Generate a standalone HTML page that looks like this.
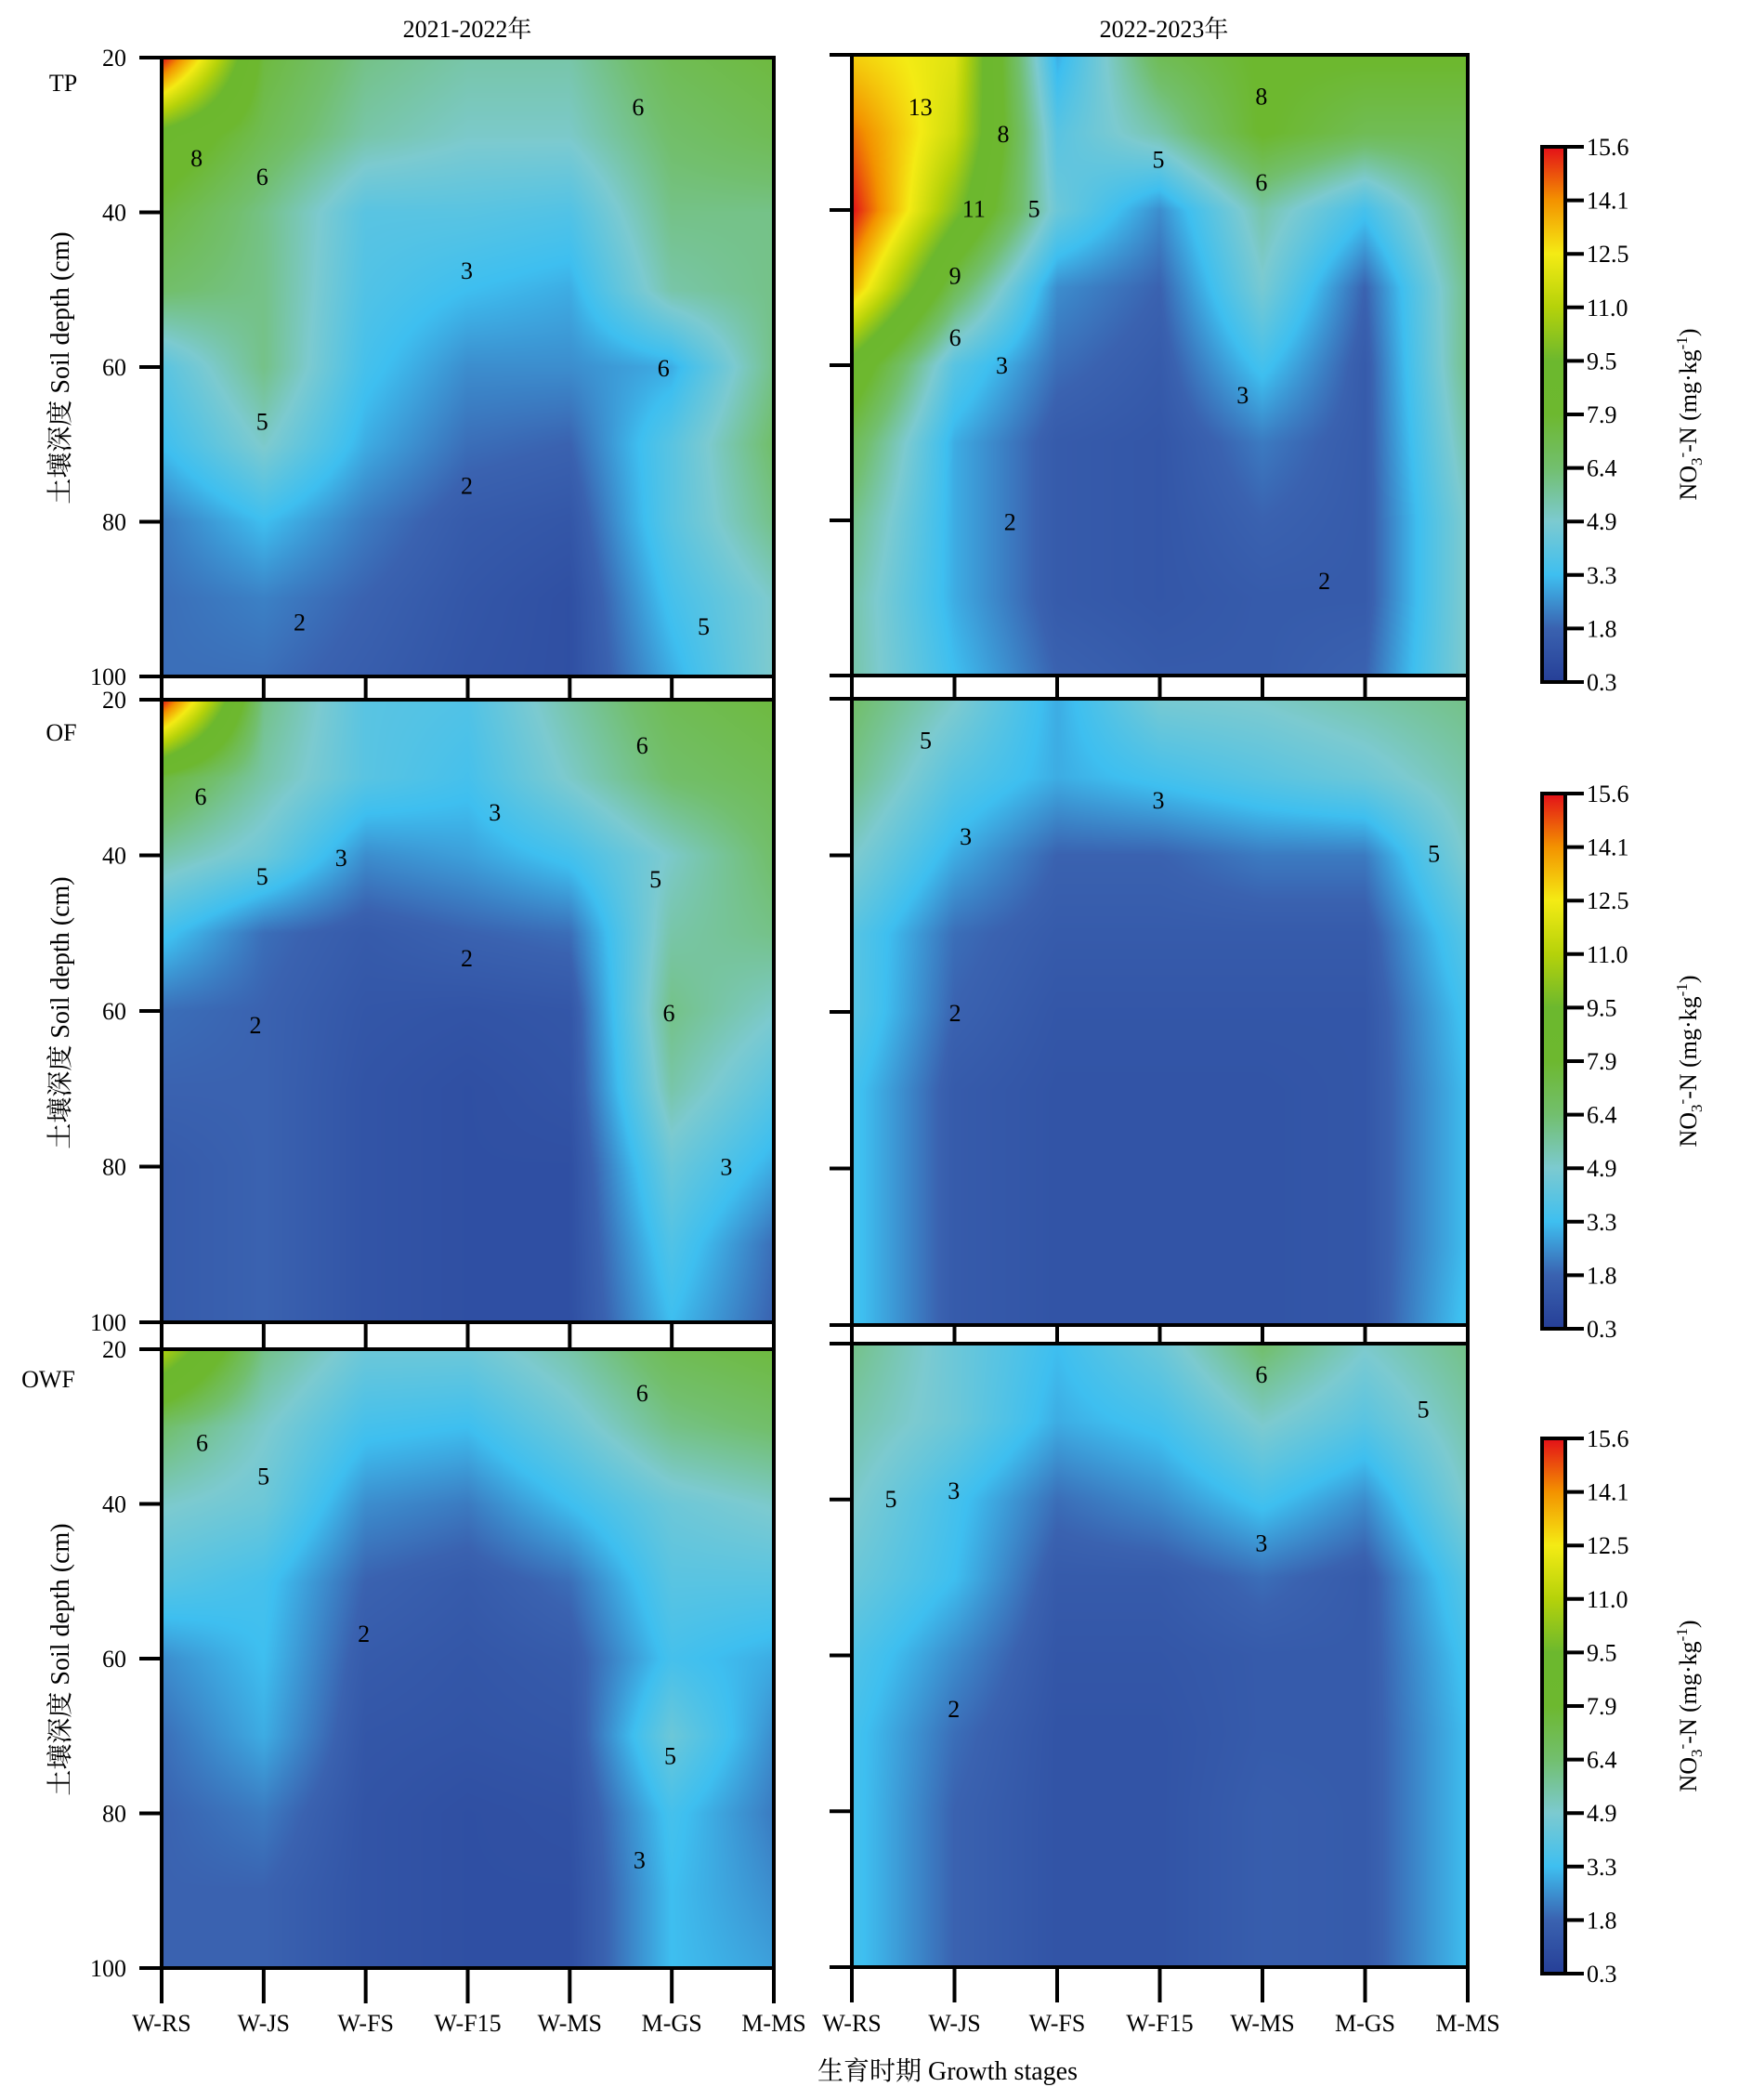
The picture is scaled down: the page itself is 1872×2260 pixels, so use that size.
<!DOCTYPE html>
<html><head><meta charset="utf-8">
<style>
html,body{margin:0;padding:0;background:#fff;}
#wrap{position:relative;width:1872px;height:2260px;overflow:hidden;background:#fff;}
canvas{position:absolute;}
svg{position:absolute;left:0;top:0;}
text{font-family:"Liberation Serif","Noto Serif CJK SC",serif;fill:#000;}
</style></head>
<body>
<div id="wrap">
<canvas id="c0"></canvas><canvas id="c1"></canvas><canvas id="c2"></canvas>
<canvas id="c3"></canvas><canvas id="c4"></canvas><canvas id="c5"></canvas>
<svg id="s" width="1872" height="2260" xmlns="http://www.w3.org/2000/svg">
<defs>
<linearGradient id="cb" x1="0" y1="1" x2="0" y2="0">
<stop offset="0" stop-color="#263f97"/>
<stop offset="0.1" stop-color="#3a62b0"/>
<stop offset="0.2" stop-color="#3ebff0"/>
<stop offset="0.3" stop-color="#7ccad0"/>
<stop offset="0.4" stop-color="#72bf6e"/>
<stop offset="0.5" stop-color="#6db82f"/>
<stop offset="0.6" stop-color="#6cb82e"/>
<stop offset="0.7" stop-color="#b5d20a"/>
<stop offset="0.8" stop-color="#f4eb14"/>
<stop offset="0.9" stop-color="#f39200"/>
<stop offset="1" stop-color="#e30f19"/>
</linearGradient>
</defs>
<g id="g"></g>
</svg>
</div>
<script>
var stops=[[0.3,[38,63,151]],[1.8,[58,98,176]],[3.3,[62,191,240]],[4.9,[124,202,208]],[6.4,[114,191,110]],[7.9,[109,184,47]],[9.5,[108,184,46]],[11.0,[181,210,10]],[12.5,[244,235,20]],[14.1,[243,146,0]],[15.6,[227,15,25]]];
function col(v){if(v<=stops[0][0])return stops[0][1];for(var i=1;i<stops.length;i++){if(v<=stops[i][0]){var a=stops[i-1],b=stops[i],t=(v-a[0])/(b[0]-a[0]);return [a[1][0]+(b[1][0]-a[1][0])*t,a[1][1]+(b[1][1]-a[1][1])*t,a[1][2]+(b[1][2]-a[1][2])*t];}}return stops[stops.length-1][1];}
var G=[
[[15.6,7.5,6,5.5,5.5,7,7.5],[9,7,5.5,5,5,6.5,7],[7.5,6,4,4,3.8,6,6],[6.5,6,3.8,3.3,3,5.5,6],[4,6,3.5,2.5,2.5,3,6],[3.3,5,3,2,1.8,4,6.5],[2.2,3.3,2.2,1.5,1.3,4,6],[2,2.3,1.8,1.3,1.0,3.5,5],[2,2,1.6,1.2,1.0,3,5]],
[[13,12,3,7,8,8,8],[14.5,11.5,4,5.5,8,7,7],[15.6,10,4.5,2.5,5.5,3.5,6.5],[13.5,7,2.5,1.8,4.8,1.8,6],[9,4,2,1.5,3.5,1.5,6],[7,3,1.5,1.3,2.2,1.5,5.5],[6,3,1.5,1.3,1.8,1.5,5],[5.5,3,1.5,1.3,1.5,1.5,5],[5.5,3.3,1.8,1.5,1.5,1.8,5]],
[[15.6,6,4,3.8,5.5,7,7.5],[7.5,5.5,4,3.5,5,6.5,7],[5.5,4.5,2.5,2.8,3.5,5,6.5],[3.5,2,1.5,1.8,2,5.5,6],[2,1.8,1.3,1.2,1.3,6,5],[1.8,1.8,1.2,1.0,1.2,5.5,4],[1.5,1.8,1.2,1.0,1.0,4.5,3],[1.5,1.8,1.2,1.0,1.0,3.8,2],[1.5,1.8,1.2,1.0,1.0,3.3,1.8]],
[[6.5,5,3,4.8,5,5.5,6],[6,4,3,3.5,4,4.5,5.5],[5,3,1.8,1.8,2.2,2.2,5],[4,2,1.5,1.5,1.5,1.5,4],[4,1.8,1.3,1.3,1.3,1.3,3.5],[3.5,1.5,1.2,1.2,1.2,1.3,3.3],[3.5,1.5,1.2,1.2,1.2,1.3,3.3],[3.5,1.5,1.2,1.2,1.2,1.3,3.3],[3.5,1.5,1.2,1.2,1.2,1.3,3.5]],
[[11,6,4.5,4.5,5.5,7,7.5],[6.5,5,3.5,3.3,4.5,6,6.5],[5,4.5,2.5,2.2,3.3,4.5,5],[4,3.5,1.8,1.5,2,4,4],[2.5,3.3,1.5,1.3,1.5,3.5,3],[2,3,1.3,1.2,1.3,4.5,2.5],[1.8,2.2,1.2,1.0,1.1,3.5,2.2],[1.8,1.8,1.2,1.0,1.0,3.3,2.5],[1.8,1.8,1.2,1.0,1.0,3.3,2.8]],
[[6,4.5,3.3,4.5,6.5,5,6],[5.5,4.5,3,3.5,5,4,5.5],[5,3.5,2,2.5,3.5,2.5,5],[4.5,3.3,1.5,1.5,2,1.5,4],[3.8,2.5,1.3,1.3,1.5,1.5,3.5],[3.5,2,1.2,1.2,1.5,1.5,3.3],[3.5,1.8,1.2,1.2,1.6,1.5,3.3],[3.5,1.8,1.2,1.2,1.6,1.5,3.3],[3.5,1.8,1.2,1.2,1.6,1.5,3.3]]
];
var P=[[174,62,833,728],[917,59,1580,727],[174,753,833,1423],[917,752,1580,1426],[174,1452,833,2118],[917,1446,1580,2117]];
for(var k=0;k<6;k++){
 var p=P[k],w=p[2]-p[0],h=p[3]-p[1],c=document.getElementById('c'+k);
 c.width=w;c.height=h;c.style.left=p[0]+'px';c.style.top=p[1]+'px';
 var ctx=c.getContext('2d'),im=ctx.createImageData(w,h),g=G[k];
 for(var y=0;y<h;y++){var fy=y/(h-1)*8,iy=Math.min(7,Math.floor(fy)),ty=fy-iy;
  for(var x=0;x<w;x++){var fx=x/(w-1)*6,ix=Math.min(5,Math.floor(fx)),tx=fx-ix;
   var v=(g[iy][ix]*(1-tx)+g[iy][ix+1]*tx)*(1-ty)+(g[iy+1][ix]*(1-tx)+g[iy+1][ix+1]*tx)*ty;
   var cc=col(v),o=(y*w+x)*4;im.data[o]=cc[0];im.data[o+1]=cc[1];im.data[o+2]=cc[2];im.data[o+3]=255;}}
 ctx.putImageData(im,0,0);
}
var s='';
function T(x,y,t,sz,anc,extra){s+='<text x="'+x+'" y="'+y+'" font-size="'+(sz||26)+'" text-anchor="'+(anc||'middle')+'" '+(extra||'')+'>'+t+'</text>';}
function L(x1,y1,x2,y2,w){s+='<line x1="'+x1+'" y1="'+y1+'" x2="'+x2+'" y2="'+y2+'" stroke="#000" stroke-width="'+(w||4)+'"/>';}
for(var k=0;k<6;k++){var p=P[k];
 s+='<rect x="'+p[0]+'" y="'+p[1]+'" width="'+(p[2]-p[0])+'" height="'+(p[3]-p[1])+'" fill="none" stroke="#000" stroke-width="4"/>';
 var h=p[3]-p[1];
 for(var i=0;i<5;i++){var yy=p[1]+h*i/4;L(p[0]-24,yy,p[0],yy,4);
  if(k%2==0)T(p[0]-38,yy+9,String(20+20*i),26,'end');}
 var w=p[2]-p[0];
 var ybot=(k<4)?P[k+2][1]:p[3]+38;
 if(k<4){s+='<rect x="'+p[0]+'" y="'+p[3]+'" width="'+w+'" height="'+(ybot-p[3])+'" fill="#fff" stroke="#000" stroke-width="4"/>';}
 for(var i=0;i<7;i++){var xx=p[0]+w*i/6;L(xx,p[3],xx,ybot,4);}
}
var xl=['W-RS','W-JS','W-FS','W-F15','W-MS','M-GS','M-MS'];
for(var i=0;i<7;i++){T(174+659*i/6,2186,xl[i],26);T(917+663*i/6,2186,xl[i],26);}
T(1020,2238,'生育时期 Growth stages',28);
T(503,40,'2021-2022年',26);T(1253,40,'2022-2023年',26);
T(68,98,'TP',26);T(66,797,'OF',26);T(52,1493,'OWF',26);
var yc=[396,1090,1786];
for(var r=0;r<3;r++){T(0,0,'土壤深度 Soil depth (cm)',28,'middle','transform="translate(74,'+yc[r]+') rotate(-90)"');}
var cbs=[[158,734],[854,1430],[1548,2124]];
var cbl=['0.3','1.8','3.3','4.9','6.4','7.9','9.5','11.0','12.5','14.1','15.6'];
for(var r=0;r<3;r++){var a=cbs[r][0],b=cbs[r][1];
 s+='<rect x="1660" y="'+a+'" width="25" height="'+(b-a)+'" fill="url(#cb)" stroke="#000" stroke-width="4"/>';
 for(var i=0;i<11;i++){var yy=b-(b-a)*i/10;L(1685,yy,1705,yy,4);T(1708,yy+9,cbl[i],26,'start');}
 var mid=(a+b)/2;
 s+='<text font-size="26" text-anchor="middle" transform="translate(1826,'+mid+') rotate(-90)">NO<tspan font-size="17" dy="6">3</tspan><tspan font-size="17" dy="-16">-</tspan><tspan dy="10">-N (mg·kg</tspan><tspan font-size="17" dy="-10">-1</tspan><tspan dy="10">)</tspan></text>';
}
var lab=[[147,118,8],[196,132,6],[477,80,6],[349,202,3],[496,275,6],[196,315,5],[349,363,2],[224,465,2],[526,468,5],
[688,80,13],[750,100,8],[866,119,5],[943,72,8],[943,136,6],[728,156,11],[773,156,5],[714,206,9],[714,252,6],[749,273,3],[929,295,3],[755,390,2],[990,434,2],
[150,595,6],[196,655,5],[255,641,3],[370,607,3],[480,557,6],[490,657,5],[349,716,2],[191,766,2],[500,757,6],[543,872,3],
[692,553,5],[722,625,3],[866,598,3],[1072,638,5],[714,757,2],
[151,1078,6],[197,1103,5],[480,1041,6],[272,1221,2],[501,1312,5],[478,1390,3],
[666,1120,5],[713,1114,3],[943,1027,6],[1064,1053,5],[943,1153,3],[713,1277,2]];
for(var i=0;i<lab.length;i++){T(lab[i][0]*1.44,lab[i][1]*1.44+9,String(lab[i][2]),26);}
document.getElementById('g').innerHTML=s;
</script>
</body></html>
